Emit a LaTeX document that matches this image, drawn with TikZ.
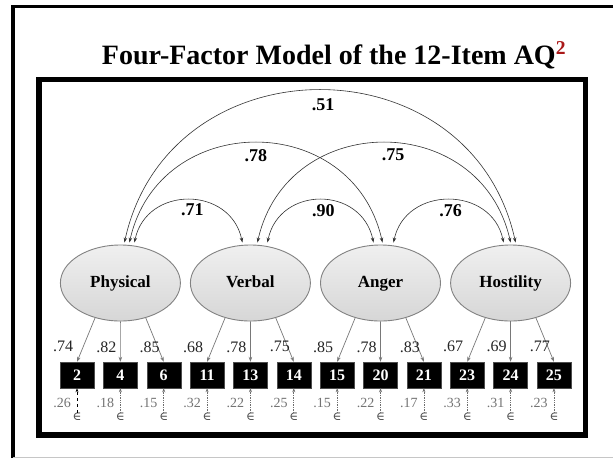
\documentclass[tikz,border=0pt]{standalone}
\usepackage{fontspec}
\setmainfont{Liberation Serif}
\newfontfamily\symfnt{DejaVu Serif}
\usetikzlibrary{arrows.meta,calc,shapes.geometric}
\definecolor{titlered}{RGB}{170,25,25}
\definecolor{ellborder}{RGB}{130,130,130}
\definecolor{loadgray}{RGB}{120,120,120}
\definecolor{errgray}{RGB}{110,110,110}
\begin{document}
\begin{tikzpicture}[x=1pt,y=-1pt,
  latent/.style={ellipse, draw=ellborder, line width=0.9pt, top color=gray!12, bottom color=gray!32,
    minimum width=120pt, minimum height=76pt, inner sep=0pt, text height=11pt, text depth=3pt,
    font=\bfseries\fontsize{17}{19}\selectfont},
  itembox/.style={rectangle, fill=black, draw=gray!60!black, line width=0.4pt, text=white,
    minimum width=34pt, minimum height=26pt, inner sep=0pt, font=\bfseries\fontsize{16}{18}\selectfont},
  load/.style={draw=loadgray, line width=0.7pt, -{Stealth[length=5pt,width=3.5pt]}},
  cov/.style={draw=black!80, line width=0.6pt, {Stealth[length=5pt,width=3.5pt]}-{Stealth[length=5pt,width=3.5pt]}},
  errarrow/.style={draw=errgray, line width=0.7pt, densely dotted, -{Stealth[length=4pt,width=3pt]}},
  errsym/.style={text=black!70, inner sep=0.5pt, font=\symfnt\fontsize{12}{13}\selectfont},
  ldlab/.style={text=black!85, inner sep=0pt, font=\fontsize{16}{18}\selectfont},
  errlab/.style={text=black!55, inner sep=0pt, font=\fontsize{14}{16}\selectfont},
  covlab/.style={text=black, inner sep=0pt, font=\bfseries\fontsize{18}{20}\selectfont}
]
\useasboundingbox (0,0) rectangle (613,459);
\fill[white] (0,0) rectangle (613,459);
% outer frame
\draw[line width=3.5pt] (13,458) -- (13,6.5) -- (613,6.5);
\draw[gray!45, line width=1.5pt] (13,457.5) -- (613,457.5);
% title
\node[anchor=base, inner sep=0pt, font=\bfseries\fontsize{28}{32}\selectfont] (title) at (334,64)
  {Four-Factor Model of the\ 12-Item AQ\textsuperscript{\color{titlered}2}};
% inner box
\draw[line width=5.5pt] (39,79.5) rectangle (585.5,435);
% items
\foreach \n [count=\i from 0] in {2,4,6,11,13,14,15,20,21,23,24,25} {
  \node[itembox] (b\n) at ({77+43.36*\i},375) {\n};
}
% latent factors
\node[latent] (P) at (120.4,283) {Physical};
\node[latent] (V) at (250.4,283) {Verbal};
\node[latent] (A) at (380.5,283) {Anger};
\node[latent] (H) at (510.6,283) {Hostility};
% loadings
\foreach \f/\l/\m/\r in {P/2/4/6, V/11/13/14, A/15/20/21, H/23/24/25} {
  \draw[load] (\f.-126) -- (b\l.north);
  \draw[load] (\f.south) -- (b\m.north);
  \draw[load] (\f.-54) -- (b\r.north);
}
\foreach \n/\v in {2/.74,4/.82,6/.85,11/.68,13/.78,14/.75,15/.85,20/.78,21/.83,23/.67,24/.69,25/.77} {
  \node[ldlab] (l\n) at ($(b\n.north)+(-14,-15)$) {\v};
}
% errors
\foreach \n/\v in {2/.26,4/.18,6/.15,11/.32,13/.22,14/.25,15/.15,20/.22,21/.17,23/.33,24/.31,25/.23} {
  \node[errsym] (e\n) at ($(b\n.south)+(0,29)$) {∈};
  \node[errlab] (r\n) at ($(b\n.south)+(-15,15)$) {\v};
}
\draw[errarrow, draw=black, dashed] (e2.north) -- (b2.south);
\foreach \n in {4,6,11,13,14,15,20,21,23,24,25} {
  \draw[errarrow] (e\n.north) -- (b\n.south);
}
% covariance endpoints
\coordinate (pa) at ($(P.north)+(4,-2)$);
\coordinate (pb) at ($(P.north)+(9,-2)$);
\coordinate (pc) at ($(P.north)+(14,-2)$);
\coordinate (va) at ($(V.north)+(-8,-2)$);
\coordinate (vb) at ($(V.north)+(7,-2)$);
\coordinate (vc) at ($(V.north)+(17,-2)$);
\coordinate (aa) at ($(A.north)+(-7,-2)$);
\coordinate (ab) at ($(A.north)+(2,-2)$);
\coordinate (ac) at ($(A.north)+(13,-2)$);
\coordinate (ha) at ($(H.north)+(-7,-2)$);
\coordinate (hb) at ($(H.north)+(0,-2)$);
\coordinate (hc) at ($(H.north)+(5,-2)$);
% covariance arcs
\draw[cov] (pc) .. controls +(12,-57) and +(-12,-57) .. node[covlab, midway, below=4pt, xshift=4pt] (c71) {.71} (va);
\draw[cov] (vc) .. controls +(12,-57) and +(-12,-57) .. node[covlab, midway, below=4pt, xshift=3pt] (c90) {.90} (aa);
\draw[cov] (ac) .. controls +(12,-57) and +(-12,-57) .. node[covlab, midway, below=4pt, xshift=2pt] (c76) {.76} (ha);
\draw[cov] (pb) .. controls +(30,-133) and +(-30,-133) .. node[covlab, midway, below=6pt] (c78) {.78} (ab);
\draw[cov] (vb) .. controls +(30,-133) and +(-30,-133) .. node[covlab, midway, below=6pt, xshift=9pt] (c75) {.75} (hb);
\draw[cov] (pa) .. controls +(45,-203) and +(-45,-203) .. node[covlab, midway, below=8pt, xshift=3pt] (c51) {.51} (hc);
\end{tikzpicture}
\end{document}
